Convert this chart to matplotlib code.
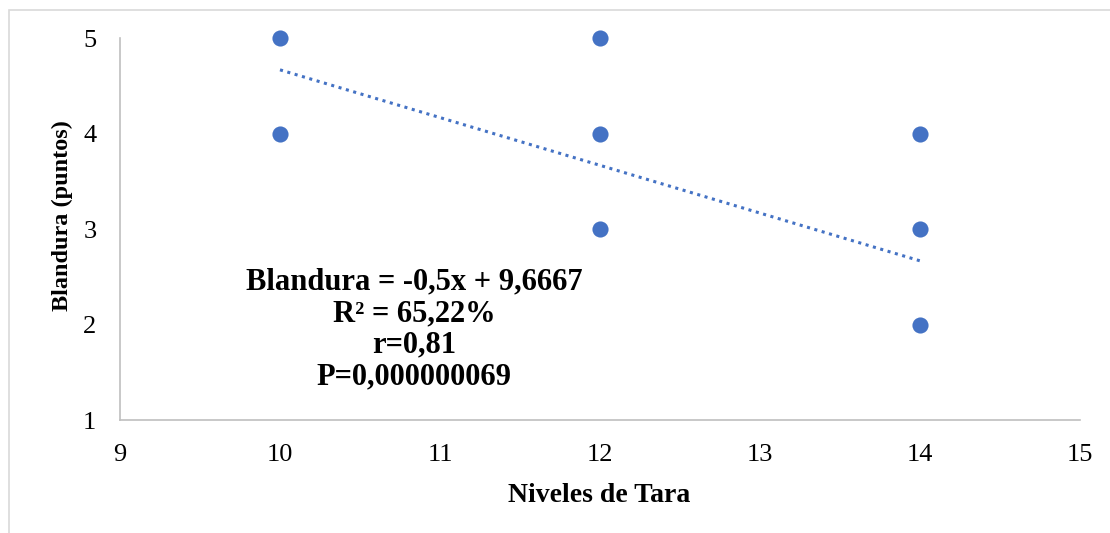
import matplotlib.pyplot as plt
from matplotlib.patches import Rectangle
import numpy as np

plt.rcParams['font.family'] = ['Liberation Serif', 'DejaVu Serif']

# datos
tara = [10, 10, 12, 12, 12, 14, 14, 14]
blandura = [5, 4, 5, 4, 3, 4, 3, 2]
pendiente = -0.5
intercepto = 9.6667
texto = "Blandura = -0,5x + 9,6667\nR² = 65,22%\nr=0,81\nP=0,000000069"

azul = '#4472C4'
gris = '#BFBFBF'

fig = plt.figure(figsize=(11.1, 5.33), dpi=100)
ax = fig.add_axes([0.1081, 0.212, 0.8649, 0.7167])

ax.scatter(tara, blandura, s=135, color=azul, zorder=3, linewidths=0, clip_on=False)

xl = np.array([min(tara), max(tara)])
ax.plot(xl, pendiente * xl + intercepto, linestyle=(0, (1, 1.5)), color=azul, lw=2.2, zorder=2)

ax.set_xlim(9, 15)
ax.set_ylim(1, 5)
ax.set_xticks(range(9, 16))
ax.set_yticks(range(1, 6))
ax.tick_params(length=0, labelsize=19)
ax.tick_params(axis='x', pad=17)
ax.tick_params(axis='y', pad=17)
for s in ['top', 'right']:
    ax.spines[s].set_visible(False)
for s in ['left', 'bottom']:
    ax.spines[s].set_color(gris)
    ax.spines[s].set_linewidth(1.2)

ax.set_xlabel('Niveles de Tara', fontsize=20, fontweight='bold')
ax.set_ylabel('Blandura (puntos)', fontsize=17.5, fontweight='bold')
ax.xaxis.set_label_coords(0.499, -0.164)
ax.yaxis.set_label_coords(-0.049, 0.534)

ax.text(10.84, 1.95, texto, ha='center', va='center', fontsize=22,
        fontweight='bold', linespacing=1.12)

# marco del grafico
fig.patches.append(Rectangle((9 / 1110, -0.1), 1.2, 1.1 - 10 / 533,
                             transform=fig.transFigure, fill=False,
                             edgecolor='#D9D9D9', lw=1.2))

fig.savefig('out.png', dpi=100)
